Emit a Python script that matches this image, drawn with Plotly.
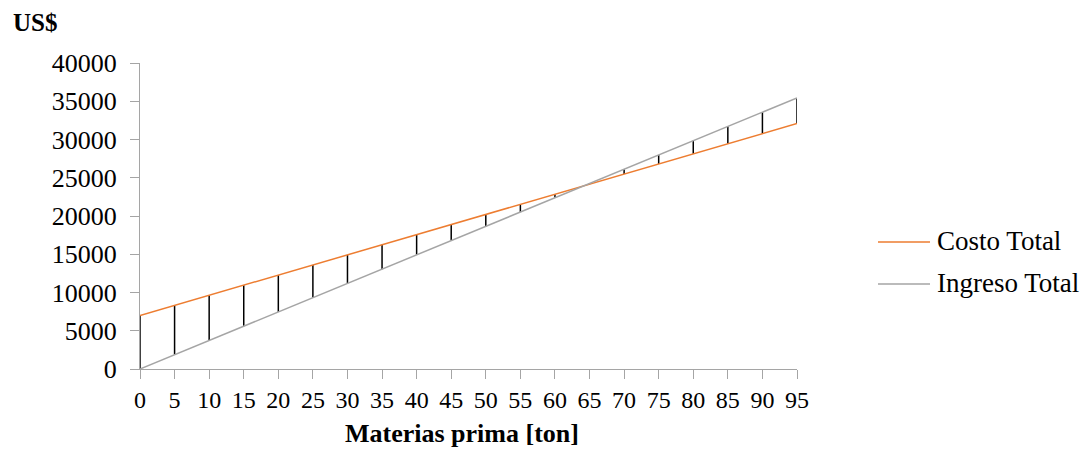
import plotly.graph_objects as go

materias = [0, 5, 10, 15, 20, 25, 30, 35, 40, 45, 50, 55, 60, 65, 70, 75, 80, 85, 90, 95]
costo_total = [7000, 8320, 9640, 10960, 12280, 13600, 14920, 16240, 17560, 18880,
               20200, 21520, 22840, 24160, 25480, 26800, 28120, 29440, 30760, 32080]
ingreso_total = [0, 1865, 3730, 5595, 7460, 9325, 11190, 13055, 14920, 16785,
                 18650, 20515, 22380, 24245, 26110, 27975, 29840, 31705, 33570, 35435]
y_ticks = [0, 5000, 10000, 15000, 20000, 25000, 30000, 35000, 40000]

FONT = "Liberation Serif, Times New Roman, serif"
ORANGE = "#ED7D31"
GRAY = "#A5A5A5"

L, T, PW, PH = 140, 63, 657, 306

def px(xp):
    return (xp - L) / PW

def py(yp):
    return 1 - (yp - T) / PH

# high-low lines
hx, hy = [], []
for x, c, i in zip(materias, costo_total, ingreso_total):
    hx += [x, x, None]
    hy += [c, i, None]

fig = go.Figure()
fig.add_trace(go.Scatter(x=hx, y=hy, mode="lines", line=dict(color="black", width=1.5),
                         showlegend=False, hoverinfo="skip"))
fig.add_trace(go.Scatter(x=materias, y=costo_total, mode="lines", name="Costo Total",
                         line=dict(color=ORANGE, width=1.5), showlegend=False))
fig.add_trace(go.Scatter(x=materias, y=ingreso_total, mode="lines", name="Ingreso Total",
                         line=dict(color=GRAY, width=1.5), showlegend=False))

# manual legend
legend_items = [("Costo Total", ORANGE, 242), ("Ingreso Total", GRAY, 284)]
for name, col, ypix in legend_items:
    fig.add_shape(type="line", xref="paper", yref="paper",
                  x0=px(878), x1=px(930), y0=py(ypix), y1=py(ypix),
                  line=dict(color=col, width=1.5))
    fig.add_annotation(text=name, xref="paper", yref="paper", x=px(935), y=py(ypix - 1),
                       xanchor="left", yanchor="middle", showarrow=False,
                       font=dict(family=FONT, size=27, color="black"))

fig.add_annotation(text="<b>US$</b>", xref="paper", yref="paper",
                   x=px(11), y=py(22), xanchor="left", yanchor="middle",
                   showarrow=False, font=dict(family=FONT, size=25, color="black"))

fig.add_annotation(text="<b>Materias prima [ton]</b>", xref="paper", yref="paper",
                   x=px(462), y=py(433), xanchor="center", yanchor="middle",
                   showarrow=False, font=dict(family=FONT, size=26, color="black"))

fig.update_layout(
    width=1086, height=453,
    margin=dict(l=L, r=1086 - L - PW, t=T, b=453 - T - PH),
    paper_bgcolor="white", plot_bgcolor="white",
    font=dict(family=FONT, size=25, color="black"),
    xaxis=dict(range=[0, 95], tickmode="array", tickvals=materias,
               ticktext=[str(v) for v in materias],
               showgrid=False, zeroline=False, showline=True, linecolor=GRAY, linewidth=1,
               ticks="outside", ticklen=9, tickcolor=GRAY,
               tickfont=dict(family=FONT, size=24)),
    yaxis=dict(range=[0, 40000], tickmode="array", tickvals=y_ticks,
               ticktext=[str(v) for v in y_ticks],
               showgrid=False, zeroline=False, showline=True, linecolor=GRAY, linewidth=1,
               ticks="outside", ticklen=9, tickcolor=GRAY, ticklabelstandoff=8,
               tickfont=dict(family=FONT, size=26)),
)

fig.write_html("out.html")
